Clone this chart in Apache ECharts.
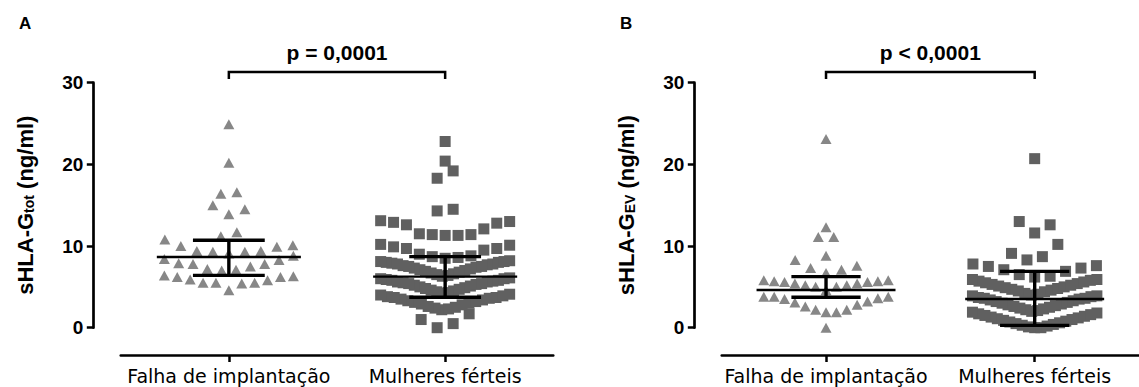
<!DOCTYPE html>
<html>
<head>
<meta charset="utf-8">
<script src="https://cdn.jsdelivr.net/npm/echarts@6/dist/echarts.min.js"></script>
<style>
html,body{margin:0;padding:0;background:#fff;}
#chart{width:1139px;height:387px;}
</style>
</head>
<body>
<div id="chart"></div>
<script>
// ---------------- data ----------------
const categories = ['Falha de implantação', 'Mulheres férteis'];
const panelLabels = ['A', 'B'];
const yAxisNames = ['{b|sHLA-G}{s|tot}{b| (ng/ml)}', '{b|sHLA-G}{s|EV}{b| (ng/ml)}'];
const pValues = ['p = 0,0001', 'p < 0,0001'];
const yTicks = [0, 10, 20, 30];

// Panel A : sHLA-G tot (ng/ml)
const falhaTot = [4.6, 5.4, 5.5, 5.5, 5.5, 5.8, 5.9, 6.2, 6.2, 6.3, 6.4,
  7.0, 7.1, 7.2, 7.5, 7.8, 7.8, 7.9, 8.3, 8.4, 8.8,
  9.1, 9.3, 9.3, 9.4, 9.4, 9.9, 10.0, 10.1, 10.8,
  11.2, 11.7, 13.9, 14.5, 15.0, 16.4, 16.6, 20.2, 24.9];
const ferteisTot = [0.0, 0.5, 1.0, 1.7,
  2.2, 2.3, 2.4, 2.5, 2.6, 2.8, 2.9, 3.0, 3.1, 3.2, 3.3, 3.4, 3.5, 3.6, 3.7, 3.7, 3.8, 3.9, 4.0, 4.1,
  4.2, 4.3, 4.4, 4.5, 4.6, 4.7, 4.8, 4.9, 5.0, 5.1, 5.2, 5.3, 5.4, 5.4, 5.5, 5.6, 5.6, 5.7, 5.8, 5.8, 5.9, 6.0, 6.0, 6.1,
  6.3, 6.4, 6.5, 6.6, 6.7, 6.8, 6.9, 7.0, 7.1, 7.2, 7.3, 7.4, 7.5, 7.5, 7.6, 7.7, 7.8, 7.8, 7.9, 8.0, 8.0, 8.1, 8.1, 8.2,
  8.5, 8.6, 8.7, 8.8, 9.0, 9.5, 9.7, 9.7, 9.9, 10.1, 10.2,
  11.3, 11.3, 11.4, 11.4, 11.5, 12.1, 12.6, 12.8, 12.9, 13.0, 13.1,
  14.3, 14.5, 18.3, 19.2, 20.4, 22.8];
const medianTot = [8.66, 6.25];
const lowerTot = [6.41, 3.72];
const upperTot = [10.7, 8.7];

// Panel B : sHLA-G EV (ng/ml)
const falhaEV = [0.0,
  1.9, 1.9, 2.2, 2.2, 2.6, 2.8, 3.1, 3.2, 3.5, 3.6, 3.8, 3.8, 3.8,
  4.6, 5.0, 5.0, 5.2, 5.2, 5.4, 5.4, 5.6, 5.6, 5.7, 5.7, 5.8, 5.8,
  6.7, 7.1, 7.3, 7.6, 8.3, 8.8, 11.1, 11.1, 12.3, 23.1];
const ferteisEV = [0.0, 0.0, 0.1, 0.2, 0.3, 0.4, 0.5, 0.6, 0.7, 0.8, 0.9, 1.0, 1.1, 1.2, 1.3, 1.4, 1.5, 1.6, 1.7, 1.8, 1.9,
  2.0, 2.1, 2.2, 2.3, 2.4, 2.5, 2.6, 2.7, 2.8, 2.9, 3.0, 3.1, 3.2, 3.3, 3.4, 3.5, 3.6, 3.6, 3.7, 3.8, 3.9, 3.9,
  4.0, 4.1, 4.2, 4.4, 4.5, 4.6, 4.7, 4.8, 4.9, 5.0, 5.1, 5.2, 5.3, 5.4, 5.5, 5.6, 5.7, 5.8, 5.9, 5.9,
  6.2, 6.3, 6.5, 6.9, 7.1, 7.3, 7.5, 7.6, 7.8,
  8.3, 8.7, 9.1, 10.2, 11.6, 12.6, 13.0, 20.7];
const medianEV = [4.62, 3.51];
const lowerEV = [3.72, 0.29];
const upperEV = [6.25, 6.9];

// ---------------- layout ----------------
const GRID_LEFT = [120.7, 721.7];
const GRID_TOP = 82.7, GRID_W = 432.6, GRID_H = 245;
const PX_PER_UNIT = GRID_W / 2;
const STEP = 16, MAX_ROW_W = 129, ROW_SPAN = 2.0, ROW_GAP = 1.2;

function beeswarm(values, cat) {
  const s = values.slice().sort((a, b) => a - b);
  const rows = [];
  let row = null;
  s.forEach(v => {
    if (!row || v - row[0] >= ROW_SPAN - 1e-9 || v - row[row.length - 1] > ROW_GAP) {
      row = [v]; rows.push(row);
    } else row.push(v);
  });
  const pts = [];
  rows.forEach(r => {
    const n = r.length;
    const step = n > 1 ? Math.min(STEP, MAX_ROW_W / (n - 1)) : 0;
    const shift = n % 2 === 0 ? -0.5 : 0;
    r.forEach((v, i) => {
      const k = i === 0 ? 0 : (i % 2 === 1 ? (i + 1) / 2 : -i / 2);
      pts.push([cat + (k + shift) * step / PX_PER_UNIT, v]);
    });
  });
  return pts;
}

const panels = [
  {groups: [falhaTot, ferteisTot], med: medianTot, lo: lowerTot, hi: upperTot},
  {groups: [falhaEV, ferteisEV], med: medianEV, lo: lowerEV, hi: upperEV}
];
const symbols = ['triangle', 'rect'];
const symSizes = [[11, 10], 11];
const colors = ['#878787', '#606060'];

const grids = [], xAxes = [], yAxes = [], series = [];
panels.forEach((p, pi) => {
  grids.push({left: GRID_LEFT[pi], top: GRID_TOP, width: GRID_W, height: GRID_H});
  yAxes.push({
    type: 'value', gridIndex: pi, min: 0, max: 30, interval: 10, offset: 27.4, position: 'left',
    axisLine: {show: true, onZero: false, lineStyle: {color: '#000', width: 2.7}},
    axisTick: {show: true, length: 6.5, lineStyle: {color: '#000', width: 2.5}},
    axisLabel: {color: '#000', fontSize: 19, fontWeight: 'bold', fontFamily: 'Liberation Sans', margin: 10,
      formatter: v => yTicks.indexOf(v) >= 0 ? String(v) : ''},
    splitLine: {show: false},
    name: yAxisNames[pi], nameLocation: 'middle', nameGap: 57, nameRotate: 90,
    nameTextStyle: {color: '#000', rich: {
      b: {fontSize: 22, fontWeight: 'bold', fontFamily: 'Liberation Sans', color: '#000', lineHeight: 30, verticalAlign: 'bottom'},
      s: {fontSize: 14, fontWeight: 'bold', fontFamily: 'Liberation Sans', color: '#000', lineHeight: 12, verticalAlign: 'bottom'}
    }}
  });
  series.push({
    type: 'custom', xAxisIndex: 2 + pi, yAxisIndex: pi, clip: false, silent: true, z: 6,
    data: [[0, 1, pi]],
    renderItem: function (params, api) {
      const a0 = api.coord([api.value(0), 30.45]);
      const a1 = api.coord([api.value(0), 31.3]);
      const b1 = api.coord([api.value(1), 31.3]);
      const b0 = api.coord([api.value(1), 30.45]);
      const t = api.coord([(api.value(0) + api.value(1)) / 2, 33.75]);
      return {type: 'group', children: [
        {type: 'polyline', shape: {points: [a0, a1, b1, b0]}, style: {stroke: '#000', lineWidth: 2.5, fill: null}},
        {type: 'text', style: {text: pValues[api.value(2)], x: t[0], y: t[1], fill: '#000',
          fontSize: 21, fontWeight: 'bold', fontFamily: 'Liberation Sans', align: 'center', verticalAlign: 'middle'}}
      ]};
    }
  });
});
panels.forEach((p, pi) => {
  xAxes.push({
    type: 'category', gridIndex: pi, data: categories, position: 'bottom', offset: 27.3, boundaryGap: true,
    axisLine: {show: true, onZero: false, lineStyle: {color: '#000', width: 2.5}},
    axisTick: {show: true, alignWithLabel: true, length: 7, lineStyle: {color: '#000', width: 2.5}},
    axisLabel: {color: '#000', fontSize: 19, fontFamily: 'DejaVu Sans', margin: 11, interval: 0},
    splitLine: {show: false}
  });
});
panels.forEach((p, pi) => {
  xAxes.push({type: 'value', gridIndex: pi, min: -0.5, max: 1.5, show: false, axisLine: {onZero: false}});
  p.groups.forEach((g, gi) => {
    series.push({
      type: 'scatter', xAxisIndex: 2 + pi, yAxisIndex: pi, clip: false, silent: true, z: 2,
      symbol: symbols[gi], symbolSize: symSizes[gi],
      itemStyle: {color: colors[gi], opacity: 1},
      data: beeswarm(g, gi)
    });
  });
  series.push({
    type: 'custom', xAxisIndex: 2 + pi, yAxisIndex: pi, clip: false, silent: true, z: 5,
    data: [0, 1].map(c => [c, p.med[c], p.lo[c], p.hi[c]]),
    renderItem: function (params, api) {
      const c = api.value(0), m = api.value(1), lo = api.value(2), hi = api.value(3);
      const L = (x1, y1, x2, y2, w) => {
        const a = api.coord([x1, y1]), b = api.coord([x2, y2]);
        return {type: 'line', shape: {x1: a[0], y1: a[1], x2: b[0], y2: b[1]}, style: {stroke: '#000', lineWidth: w}};
      };
      return {type: 'group', children: [
        L(c - 0.333, m, c + 0.333, m, 2.4),
        L(c - 0.166, hi, c + 0.166, hi, 3.4),
        L(c - 0.166, lo, c + 0.166, lo, 3.4),
        L(c, lo, c, hi, 3.4)
      ]};
    }
  });
});

const chart = echarts.init(document.getElementById('chart'), null, {renderer: 'svg'});
chart.setOption({
  animation: false,
  backgroundColor: '#fff',
  grid: grids, xAxis: xAxes, yAxis: yAxes, series: series,
  graphic: [
    {type: 'text', left: 19, top: 15, style: {text: panelLabels[0], fontSize: 17, fontWeight: 'bold', fontFamily: 'Liberation Sans', fill: '#000'}},
    {type: 'text', left: 620, top: 15, style: {text: panelLabels[1], fontSize: 17, fontWeight: 'bold', fontFamily: 'Liberation Sans', fill: '#000'}}
  ]
});
</script>
</body>
</html>
